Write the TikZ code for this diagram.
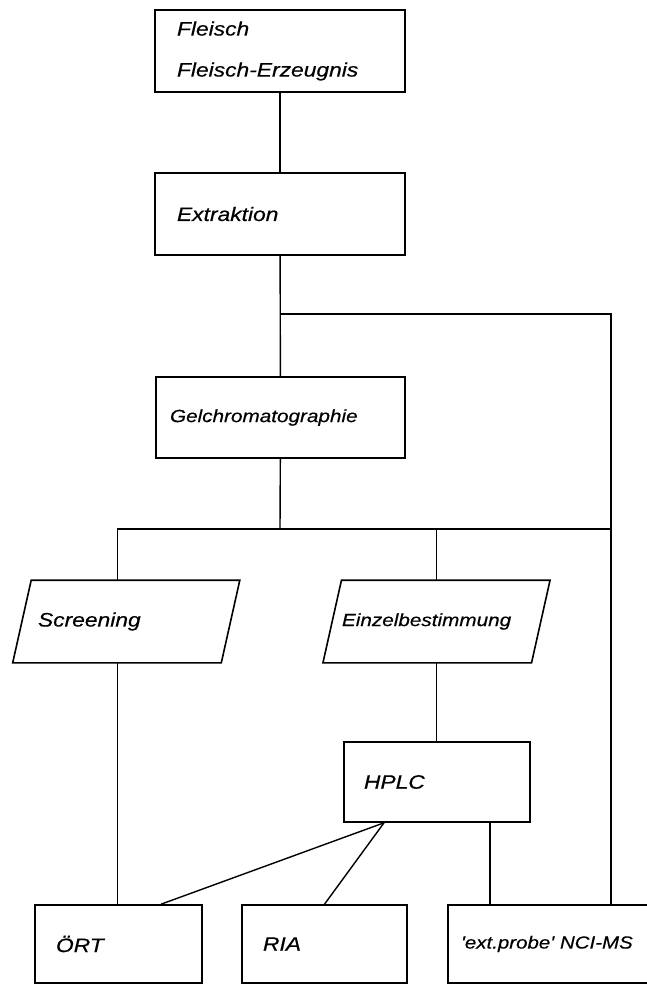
\documentclass[tikz,border=0pt]{standalone}
\usepackage{fontspec}
\newfontfamily\lettering{Liberation Sans Italic}[FakeStretch=1.17, FakeBold=0.4]

\tikzset{
  block/.style={draw, line width=1.6pt, inner ysep=0pt, align=left,
    minimum height=81pt, font=\lettering\fontsize{19.5pt}{41pt}\selectfont},
  smalltext/.style={font=\lettering\fontsize{17.7pt}{41pt}\selectfont},
  slantblock/.style={block, draw=none},
  link/.style={line width=1.4pt},
}

\begin{document}
\begin{tikzpicture}[x=1pt,y=-1pt]
\useasboundingbox (0,0) rectangle (647,985);
\fill[white] (0,0) rectangle (647,985);
% sample and preparation
\node[block, text width=206pt, inner xsep=22pt, minimum height=82pt] (meat) at (280,51) {Fleisch\\Fleisch-Erzeugnis};
\node[block, text width=206pt, inner xsep=22pt, minimum height=82pt] (extr) at (280,214) {Extraktion};
\node[block, smalltext, text width=221pt, inner xsep=14pt] (gel) at (280.5,417.5) {Gelchromatographie};
% the two ways
\node[slantblock, text width=176.5pt, inner xsep=15.25pt] (scr) at (126.25,621.5) {Screening};
\node[slantblock, smalltext, text width=189pt, inner xsep=9pt] (einz) at (436.5,621.5) {Einzelbestimmung};
\draw[line width=1.6pt] ([xshift=9.25pt]scr.north west) -- ([xshift=9.25pt]scr.north east)
  -- ([xshift=-9.25pt]scr.south east) -- ([xshift=-9.25pt]scr.south west) -- cycle;
\draw[line width=1.6pt] ([xshift=9.25pt]einz.north west) -- ([xshift=9.25pt]einz.north east)
  -- ([xshift=-9.25pt]einz.south east) -- ([xshift=-9.25pt]einz.south west) -- cycle;
\node[block, text width=146pt, inner xsep=20pt, minimum height=80pt] (hplc) at (437,782) {HPLC};
% detection
\node[block, text width=125pt, inner xsep=21pt, minimum height=78pt] (oert) at (118.5,944) {ÖRT};
\node[block, text width=123pt, inner xsep=21pt, minimum height=78pt] (ria) at (324.5,944) {RIA};
\node[block, text width=196pt, inner xsep=13pt, minimum height=78pt,
  font=\lettering\fontsize{17.5pt}{41pt}\selectfont] (nci) at (559,944) {'ext.probe' NCI-MS};
% connections
\coordinate (tap) at (280,314);
\coordinate (fork) at (280,529);
\draw[link] (meat) -- (extr);
\draw[link] (extr) -- (gel);
\draw[link] (tap) -| ([xshift=52pt]nci.north);
\draw[link] (gel) -- (fork);
\draw[link] ([xshift=-9pt]scr.north) |- ([xshift=52pt]nci.north |- fork);
\draw[link] (einz.north) -- (einz.north |- fork);
\draw[link] ([xshift=-9pt]scr.south) -- ([xshift=-9pt]scr.south |- oert.north);
\draw[link] (einz.south) -- (einz.south |- hplc.north);
\draw[link] ([xshift=-53pt]hplc.south) -- ([xshift=42.5pt]oert.north);
\draw[link] ([xshift=-53pt]hplc.south) -- (ria.north);
\draw[link] ([xshift=53pt]hplc.south) -- ([xshift=53pt]hplc.south |- nci.north);
\end{tikzpicture}
\end{document}
